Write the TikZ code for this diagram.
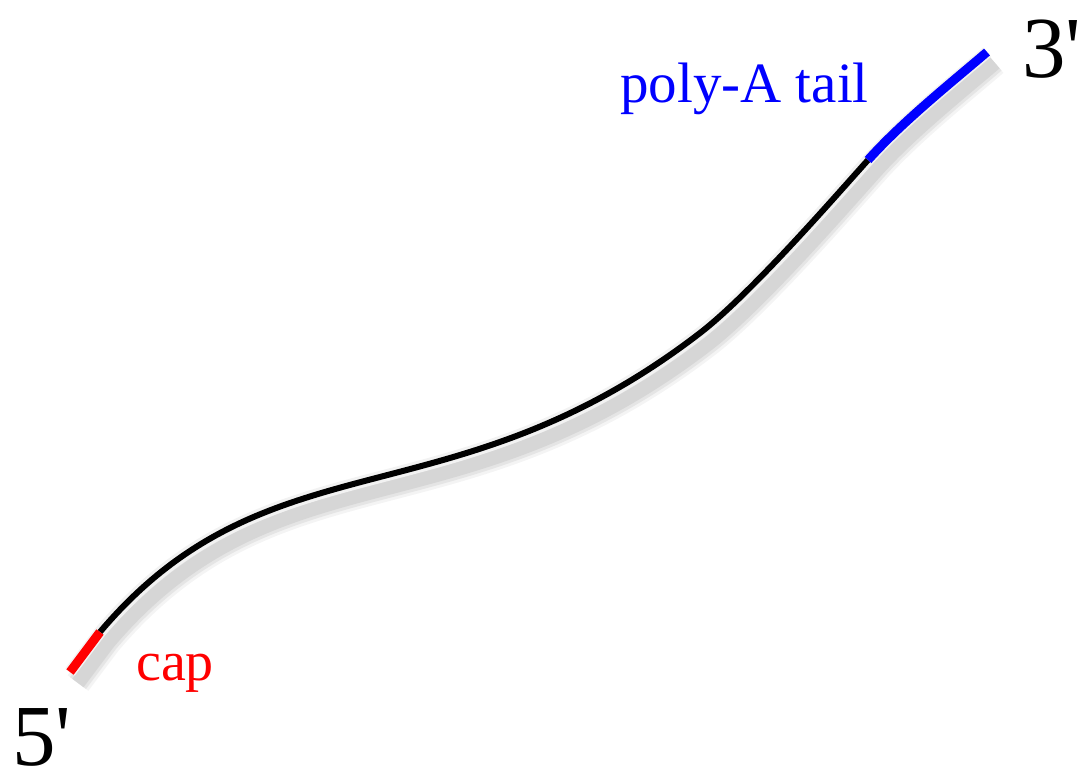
\documentclass[tikz,border=0pt]{standalone}
\usepackage{fontspec}
\setmainfont{Liberation Serif}
\begin{document}
\begin{tikzpicture}[x=1pt,y=-1pt,
  lbl/.style={inner sep=0pt,anchor=base west},
  strand/.style={line width=6pt,black},
  capseg/.style={line width=9pt,red},
  tailseg/.style={line width=9pt,blue}]
\useasboundingbox (0,0) rectangle (1081,775);
\coordinate (p0) at (70,672);
\coordinate (p1) at (100,632);
\coordinate (p3) at (700,333);
\coordinate (p4) at (868,160);
\coordinate (p5) at (987,52);
\def\blackpart{(p1) .. controls (269,432) and (450,525.5) .. (p3)
  .. controls (750,294.5) and (833,199) .. (p4)}
\def\fullcurve{(p0) -- \blackpart .. controls (903,121) and (952,82) .. (p5)}
% shadow
\begin{scope}[transform canvas={shift={(8,11)}}]
  \draw[line width=26pt,gray!9] \fullcurve;
  \draw[line width=20pt,gray!20] \fullcurve;
  \draw[line width=14pt,gray!32] \fullcurve;
\end{scope}
% halo
\draw[line width=12pt,white!90!gray] \fullcurve;
% black strand
\draw[strand] \blackpart;
% cap
\draw[capseg] (p0) -- (p1);
% poly-A tail
\draw[tailseg] (p4) .. controls (903,121) and (952,82) .. (p5);
% labels
\node[lbl,font=\fontsize{87}{87}\selectfont] (five) at (12,765) {5\textquotesingle};
\node[lbl,font=\fontsize{87}{87}\selectfont] (three) at (1022,78) {3\textquotesingle};
\node[lbl,text=red,font=\fontsize{56}{56}\selectfont] (caplbl) at (136,680) {cap};
\node[lbl,text=blue,font=\fontsize{57}{57}\selectfont] (taillbl) at (620,103) {poly-A tail};
\end{tikzpicture}
\end{document}
